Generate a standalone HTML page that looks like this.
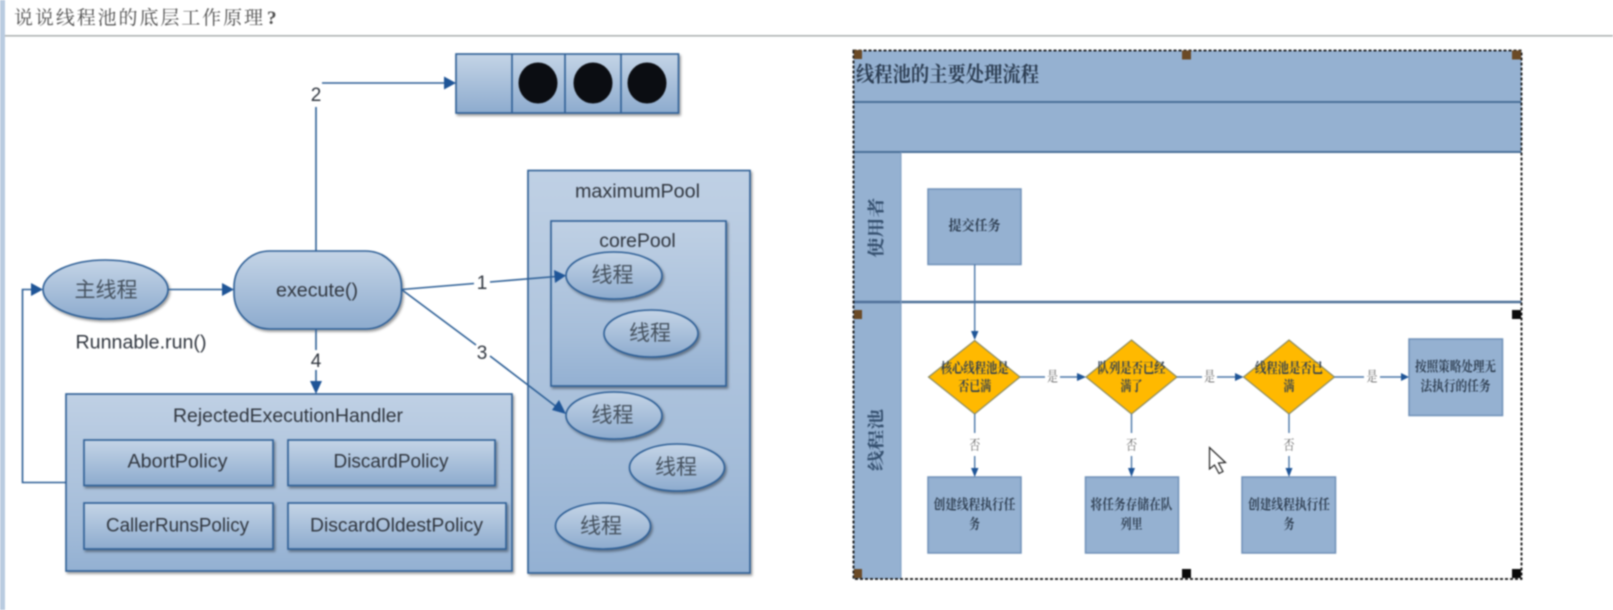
<!DOCTYPE html>
<html><head><meta charset="utf-8"><style>
html,body{margin:0;padding:0;background:#fff;width:1613px;height:610px;overflow:hidden}
svg{display:block;filter:blur(.7px)}
.l{font-family:"Liberation Sans",sans-serif;fill:#30363f;text-anchor:middle;font-size:19px}
.c{font-family:"Liberation Sans","Noto Sans CJK SC",sans-serif;fill:#46525f;text-anchor:middle;font-size:21px}
.s{font-family:"Liberation Serif","Noto Serif CJK SC",serif;fill:#2f3f52;text-anchor:middle;font-size:14px;font-weight:700}
.t{font-family:"Liberation Serif","Noto Serif CJK SC",serif;fill:#666;text-anchor:middle;font-size:14px}
</style></head><body>
<svg width="1613" height="610" viewBox="0 0 1613 610" xmlns="http://www.w3.org/2000/svg">
<defs>
<linearGradient id="g" x1="0" y1="0" x2="0" y2="1"><stop offset="0" stop-color="#c4d4e6"/><stop offset="1" stop-color="#8dabce"/></linearGradient>
<linearGradient id="g2" x1="0" y1="0" x2="0" y2="1"><stop offset="0" stop-color="#bfd0e4"/><stop offset=".7" stop-color="#a5bdd9"/><stop offset="1" stop-color="#93b0d2"/></linearGradient>
<filter id="sh" x="-10%" y="-10%" width="120%" height="125%"><feDropShadow dx="1.500" dy="2" stdDeviation="1.200" flood-color="#000" flood-opacity=".4"/></filter>
</defs>
<rect width="1613" height="610" fill="#fff"/>
<rect x="0" y="0" width="5" height="610" fill="#b9cbe0"/>
<rect x="5" y="35" width="1608" height="1.600" fill="#aeb2b2"/>
<text x="14" y="24" textLength="249" style="font-family:'Liberation Serif','Noto Serif CJK SC',serif;font-size:19px;fill:#4c4c4c">说说线程池的底层工作原理</text>
<text x="267" y="24" style="font-family:'Liberation Serif',serif;font-size:19px;fill:#4c4c4c;font-weight:700">?</text>

<g stroke="#2d5f96" stroke-width="1.600" fill="url(#g)">
<g filter="url(#sh)">
<rect x="456" y="54" width="222.500" height="59"/>
<path d="M512 54V113M565 54V113M621 54V113" fill="none"/>
</g>
<g stroke="none" fill="#0b0d12">
<ellipse cx="538" cy="83" rx="19.500" ry="20.500"/><ellipse cx="593" cy="83" rx="19.500" ry="20.500"/><ellipse cx="647" cy="83" rx="19.500" ry="20.500"/>
</g>
<rect x="528" y="170.500" width="222" height="402.500" filter="url(#sh)" fill="url(#g2)"/>
<rect x="551" y="221" width="175" height="165" filter="url(#sh)" fill="url(#g2)"/>
<rect x="66" y="394" width="446" height="177" filter="url(#sh)" fill="url(#g2)"/>
<rect x="84" y="440" width="189" height="45.500" filter="url(#sh)"/>
<rect x="288" y="440" width="207" height="45.500" filter="url(#sh)"/>
<rect x="84" y="503" width="189" height="46" filter="url(#sh)"/>
<rect x="288" y="503" width="218" height="46" filter="url(#sh)"/>
<rect x="234" y="251" width="167.500" height="78" rx="36" filter="url(#sh)"/>
<ellipse cx="105.500" cy="289.500" rx="62.500" ry="29.500" filter="url(#sh)"/>
<ellipse cx="614" cy="275.500" rx="48" ry="23.500" filter="url(#sh)"/>
<ellipse cx="651" cy="333.500" rx="47" ry="23.500" filter="url(#sh)"/>
<ellipse cx="614" cy="415.500" rx="48" ry="23.500" filter="url(#sh)"/>
<ellipse cx="677" cy="467.500" rx="47.500" ry="23.500" filter="url(#sh)"/>
<ellipse cx="603" cy="526" rx="47.500" ry="23" filter="url(#sh)"/>
</g>

<g stroke="#2d5f96" stroke-width="1.600" fill="none">
<path d="M316 251V107M322 83H446"/>
<path d="M168 289.500H224"/>
<path d="M316 329V350M316 370V384"/>
<path d="M66 482.500H22.500V289.500H33"/>
<path d="M401.500 289.500L474 283.500M490 282L556 276.500"/>
<path d="M401.500 289.500L476 345M490 356L558 408"/>
</g>
<g fill="#1f5597">
<path d="M456 83L444 76.500V89.500Z"/>
<path d="M234 289.500L222 283V296Z"/>
<path d="M316 394L310 381H322Z"/>
<path d="M43 289.500L31 283V296Z"/>
<path d="M566 275.500L554 270L555 283Z"/>
<path d="M566 414L552 410L559 400Z"/>
</g>
<rect x="310" y="85" width="12" height="20" fill="#fff"/>
<text class="l" x="316" y="101">2</text>
<text class="l" x="482" y="289">1</text>
<text class="l" x="482" y="359">3</text>
<text class="l" x="316" y="367">4</text>
<text class="l" x="317" y="296.500" textLength="82" lengthAdjust="spacingAndGlyphs">execute()</text>
<text class="l" x="141" y="348.500" textLength="131" lengthAdjust="spacingAndGlyphs">Runnable.run()</text>
<text class="l" x="637.500" y="197.500" textLength="125" lengthAdjust="spacingAndGlyphs">maximumPool</text>
<text class="l" x="637.500" y="247" textLength="76.500" lengthAdjust="spacingAndGlyphs">corePool</text>
<text class="l" x="288" y="422" textLength="230" lengthAdjust="spacingAndGlyphs">RejectedExecutionHandler</text>
<text class="l" x="177.500" y="467.500" textLength="100" lengthAdjust="spacingAndGlyphs">AbortPolicy</text>
<text class="l" x="391" y="467.500" textLength="115" lengthAdjust="spacingAndGlyphs">DiscardPolicy</text>
<text class="l" x="177.500" y="531.500" textLength="143" lengthAdjust="spacingAndGlyphs">CallerRunsPolicy</text>
<text class="l" x="396.500" y="531.500" textLength="173" lengthAdjust="spacingAndGlyphs">DiscardOldestPolicy</text>
<text class="c" x="106" y="297">主线程</text>
<text class="c" x="612.500" y="282">线程</text>
<text class="c" x="650" y="340">线程</text>
<text class="c" x="612.500" y="422">线程</text>
<text class="c" x="676" y="474">线程</text>
<text class="c" x="601" y="533">线程</text>

<!-- right diagram -->
<rect x="853.500" y="50.500" width="668" height="528.500" fill="#fff"/>
<rect x="853.500" y="50.500" width="668" height="101.500" fill="#95b1d1"/>
<rect x="853.500" y="152" width="47.500" height="427" fill="#95b1d1"/>
<path d="M853.500 102H1521.500M853.500 152H1521.500" stroke="#4a7099" stroke-width="2" fill="none"/>
<path d="M853.500 302H1521.500" stroke="#4f719a" stroke-width="2.400" fill="none"/>
<path d="M901 152V579" stroke="#7d9cc1" stroke-width="1" fill="none"/>
<rect x="853.500" y="50.500" width="668" height="528.500" fill="none" stroke="#111" stroke-width="1.800" stroke-dasharray="3 2"/>
<text x="856" y="81.500" textLength="183" lengthAdjust="spacingAndGlyphs" style="font-family:'Liberation Serif','Noto Serif CJK SC',serif;font-size:21px;font-weight:700;fill:#2c3d52">线程池的主要处理流程</text>
<text transform="translate(882,227.500) rotate(-90)" text-anchor="middle" textLength="60" lengthAdjust="spacingAndGlyphs" style="font-family:'Liberation Serif','Noto Serif CJK SC',serif;font-size:17px;font-weight:700;fill:#35506f">使用者</text>
<text transform="translate(882,440) rotate(-90)" text-anchor="middle" textLength="62" lengthAdjust="spacingAndGlyphs" style="font-family:'Liberation Serif','Noto Serif CJK SC',serif;font-size:17px;font-weight:700;fill:#35506f">线程池</text>

<g fill="#95b1d1" stroke="#6f90b8" stroke-width="1.500">
<rect x="928" y="189" width="93" height="75.500"/>
<rect x="1409" y="339" width="93.500" height="76.500"/>
<rect x="928" y="477" width="93" height="76"/>
<rect x="1085.500" y="477" width="93" height="76"/>
<rect x="1242" y="477" width="93.500" height="76"/>
</g>
<g fill="#ffb900" stroke="#8a8a60" stroke-width="1.200">
<path d="M974.700 340.500L1020 377L974.700 414L928.500 377Z"/>
<path d="M1131.500 340L1177 377L1131.500 414L1086 377Z"/>
<path d="M1289 340L1334.500 377L1289 414L1243.500 377Z"/>
</g>
<g stroke="#4a76a8" stroke-width="1.400" fill="none">
<path d="M974.700 264.500V332"/>
<path d="M974.700 414V433M974.700 456V470"/>
<path d="M1131.500 414V433M1131.500 456V470"/>
<path d="M1289 414V433M1289 456V470"/>
<path d="M1020 377H1045M1060 377H1079"/>
<path d="M1177 377H1202M1217 377H1236"/>
<path d="M1334.500 377H1364M1380 377H1402"/>
</g>
<g fill="#1f5597">
<path d="M974.700 340L971 331H978.500Z"/>
<path d="M974.700 477L971 468H978.500Z"/>
<path d="M1131.500 477L1128 468H1135Z"/>
<path d="M1289 477L1285.500 468H1292.500Z"/>
<path d="M1086 377L1077 373V381Z"/>
<path d="M1243.500 377L1235 373V381Z"/>
<path d="M1409 377L1401 373V381Z"/>
</g>
<text class="t" x="1052.500" y="381.500" textLength="11" lengthAdjust="spacingAndGlyphs">是</text>
<text class="t" x="1209.500" y="381.500" textLength="11" lengthAdjust="spacingAndGlyphs">是</text>
<text class="t" x="1372" y="381.500" textLength="11" lengthAdjust="spacingAndGlyphs">是</text>
<text class="t" x="974.700" y="450" textLength="11" lengthAdjust="spacingAndGlyphs">否</text>
<text class="t" x="1131.500" y="450" textLength="11" lengthAdjust="spacingAndGlyphs">否</text>
<text class="t" x="1289" y="450" textLength="11" lengthAdjust="spacingAndGlyphs">否</text>
<text class="s" x="974.500" y="230.500" textLength="52" lengthAdjust="spacingAndGlyphs">提交任务</text>
<text class="s" x="974.700" y="373" textLength="68" lengthAdjust="spacingAndGlyphs">核心线程池是</text>
<text class="s" x="974.700" y="391" textLength="33" lengthAdjust="spacingAndGlyphs">否已满</text>
<text class="s" x="1131.500" y="373" textLength="68" lengthAdjust="spacingAndGlyphs">队列是否已经</text>
<text class="s" x="1131.500" y="391" textLength="22" lengthAdjust="spacingAndGlyphs">满了</text>
<text class="s" x="1289" y="373" textLength="68" lengthAdjust="spacingAndGlyphs">线程池是否已</text>
<text class="s" x="1289" y="391" textLength="11" lengthAdjust="spacingAndGlyphs">满</text>
<text class="s" x="1455.500" y="371.500" textLength="81" lengthAdjust="spacingAndGlyphs">按照策略处理无</text>
<text class="s" x="1455.500" y="391" textLength="70" lengthAdjust="spacingAndGlyphs">法执行的任务</text>
<text class="s" x="974.500" y="509.500" textLength="82" lengthAdjust="spacingAndGlyphs">创建线程执行任</text>
<text class="s" x="974.500" y="529" textLength="11" lengthAdjust="spacingAndGlyphs">务</text>
<text class="s" x="1131.500" y="509.500" textLength="82" lengthAdjust="spacingAndGlyphs">将任务存储在队</text>
<text class="s" x="1131.500" y="529" textLength="22" lengthAdjust="spacingAndGlyphs">列里</text>
<text class="s" x="1289" y="509.500" textLength="82" lengthAdjust="spacingAndGlyphs">创建线程执行任</text>
<text class="s" x="1289" y="529" textLength="11" lengthAdjust="spacingAndGlyphs">务</text>

<g fill="#6b4a26">
<rect x="854" y="50" width="8" height="9"/><rect x="1182" y="50.500" width="9" height="9"/><rect x="1512" y="50.500" width="9" height="9"/>
<rect x="854" y="310" width="8" height="9"/><rect x="854" y="569" width="8" height="9"/>
</g>
<g fill="#0a0a0a">
<rect x="1512" y="310" width="9" height="9"/><rect x="1182" y="569" width="9" height="9"/><rect x="1512" y="569" width="9" height="9"/>
</g>
<path d="M1209.500 447.500V469L1214.500 465L1219 473.500L1223 471.500L1218.500 463L1225.500 462.500Z" fill="#fff" stroke="#222" stroke-width="1.200"/>
</svg>
</body></html>
